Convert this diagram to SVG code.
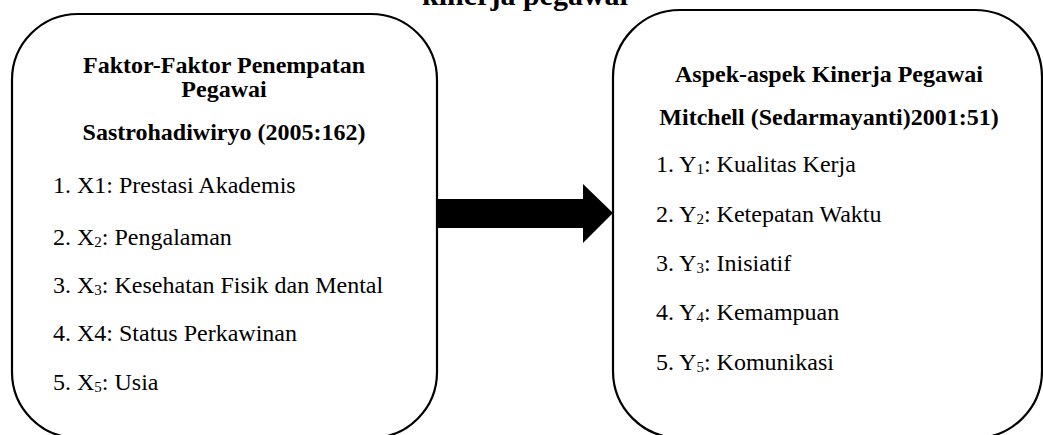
<svg xmlns="http://www.w3.org/2000/svg" width="1043" height="435" viewBox="0 0 1043 435">
<style>
text{font-family:"Liberation Serif","Times New Roman",serif;fill:#000}
.h{font-size:24px;font-weight:bold;text-anchor:middle}
.i{font-size:24px}
.s{font-size:15px}
.box{fill:#fff;stroke:#000;stroke-width:2.2}
</style>
<rect width="1043" height="435" fill="#fff"/>
<text id="title" x="525" y="5" style="font-size:30px;font-weight:bold" text-anchor="middle">kinerja pegawai</text>
<g id="connectors">
<polygon points="436,199 583,199 583,184 613,213 583,243 583,228 436,228" fill="#000"/>
</g>
<g id="node-left">
<rect class="box" x="12" y="14" width="425" height="424" rx="66" ry="66"/>
<text class="h" x="224" y="73">Faktor-Faktor Penempatan</text>
<text class="h" x="224" y="97">Pegawai</text>
<text class="h" x="224" y="140">Sastrohadiwiryo (2005:162)</text>
<text class="i" x="53" y="193">1. X1: Prestasi Akademis</text>
<text class="i" x="53" y="245">2. X<tspan class="s" dy="2">2</tspan><tspan dy="-2">: Pengalaman</tspan></text>
<text class="i" x="53" y="293">3. X<tspan class="s" dy="2">3</tspan><tspan dy="-2">: Kesehatan Fisik dan Mental</tspan></text>
<text class="i" x="53" y="341">4. X4: Status Perkawinan</text>
<text class="i" x="53" y="390">5. X<tspan class="s" dy="2">5</tspan><tspan dy="-2">: Usia</tspan></text>
</g>
<g id="node-right">
<rect class="box" x="613" y="10" width="429" height="428" rx="67" ry="67"/>
<text class="h" x="829" y="82">Aspek-aspek Kinerja Pegawai</text>
<text class="h" x="829" y="125">Mitchell (Sedarmayanti)2001:51)</text>
<text class="i" x="656" y="172">1. Y<tspan class="s" dy="2">1</tspan><tspan dy="-2">: Kualitas Kerja</tspan></text>
<text class="i" x="656" y="222">2. Y<tspan class="s" dy="2">2</tspan><tspan dy="-2">: Ketepatan Waktu</tspan></text>
<text class="i" x="656" y="271">3. Y<tspan class="s" dy="2">3</tspan><tspan dy="-2">: Inisiatif</tspan></text>
<text class="i" x="656" y="320">4. Y<tspan class="s" dy="2">4</tspan><tspan dy="-2">: Kemampuan</tspan></text>
<text class="i" x="656" y="370">5. Y<tspan class="s" dy="2">5</tspan><tspan dy="-2">: Komunikasi</tspan></text>
</g>
</svg>
